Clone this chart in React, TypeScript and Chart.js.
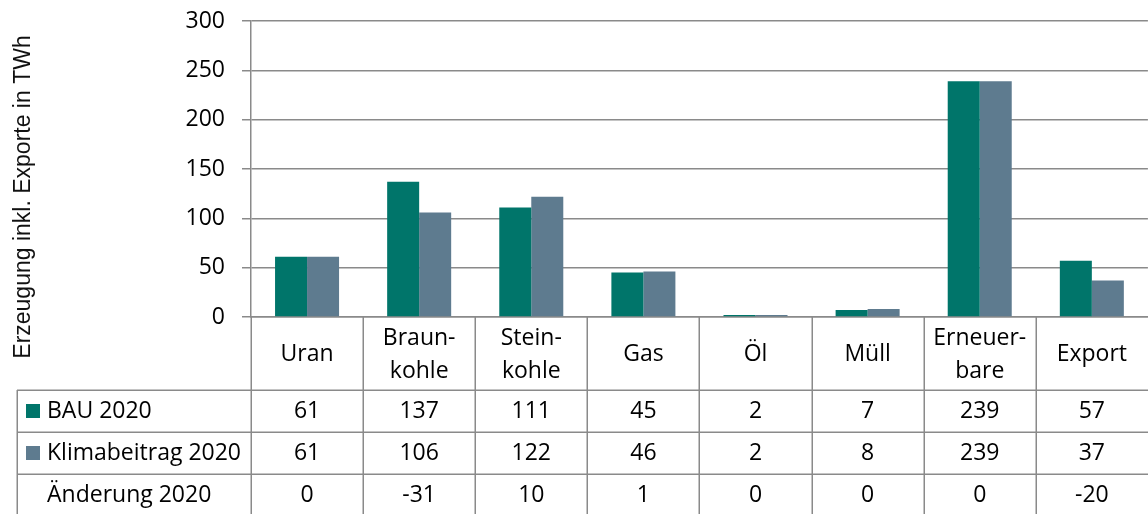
import React, { useEffect, useRef } from "react";
import { Chart, registerables } from "chart.js";

Chart.register(...registerables);

// ---- data ----
const categories: string[][] = [
  ["Uran"],
  ["Braun-", "kohle"],
  ["Stein-", "kohle"],
  ["Gas"],
  ["Öl"],
  ["Müll"],
  ["Erneuer-", "bare"],
  ["Export"],
];
const bau2020 = [61, 137, 111, 45, 2, 7, 239, 57];
const klimabeitrag2020 = [61, 106, 122, 46, 2, 8, 239, 37];
const aenderung2020 = [0, -31, 10, 1, 0, 0, 0, -20];
const rowNames = ["BAU 2020", "Klimabeitrag 2020", "Änderung 2020"];
const yTitle = "Erzeugung inkl. Exporte in TWh";
const yMin = 0;
const yMax = 300;
const yStep = 50;

// ---- styles ----
const COLOR_BAU = "#00756A";
const COLOR_KLIMA = "#5E7B8F";
const LINE = "#8a8a8a";
const FONT = "'Open Sans', 'Noto Sans', sans-serif";
const FONT_SIZE = 23;

const tablePlugin = {
  id: "dataTable",
  afterDraw(chart: any) {
    const { ctx, chartArea, scales } = chart;
    const x = scales.x;
    const bottom = chartArea.bottom;
    const headerH = 73;
    const rowH = 42;
    const tableLeft = 17;
    const H = chart.height;
    const W = chart.width;
    ctx.save();
    ctx.strokeStyle = LINE;
    ctx.lineWidth = 1.5;
    // vertical category boundaries
    for (let i = 0; i < categories.length; i++) {
      const bx = Math.round(x.getPixelForValue(i - 0.5)) + 0.25;
      ctx.beginPath();
      ctx.moveTo(bx, bottom);
      ctx.lineTo(bx, H);
      ctx.stroke();
    }
    // horizontal row lines
    for (let r = 0; r < 3; r++) {
      const ry = Math.round(bottom + headerH + r * rowH) + 0.25;
      ctx.beginPath();
      ctx.moveTo(tableLeft, ry);
      ctx.lineTo(W, ry);
      ctx.stroke();
    }
    // left border of table
    ctx.beginPath();
    ctx.moveTo(tableLeft + 0.25, bottom + headerH);
    ctx.lineTo(tableLeft + 0.25, H);
    ctx.stroke();

    // values
    const rows = [bau2020, klimabeitrag2020, aenderung2020];
    const swatches = [COLOR_BAU, COLOR_KLIMA, null];
    ctx.font = `${FONT_SIZE}px ${FONT}`;
    ctx.fillStyle = "#000";
    ctx.textBaseline = "middle";
    for (let r = 0; r < rows.length; r++) {
      const cy = bottom + headerH + r * rowH + rowH / 2;
      ctx.textAlign = "center";
      rows[r].forEach((v, i) => {
        ctx.fillText(String(v), x.getPixelForValue(i), cy);
      });
      const sw = swatches[r];
      if (sw) {
        ctx.fillStyle = sw;
        ctx.fillRect(26, cy - 7, 14, 14);
        ctx.fillStyle = "#000";
      }
      ctx.textAlign = "left";
      ctx.fillText(rowNames[r], 47, cy);
    }

    // y axis title
    ctx.save();
    ctx.translate(24, 197);
    ctx.rotate(-Math.PI / 2);
    ctx.font = `23px 'Liberation Sans', Arial, sans-serif`;
    ctx.textAlign = "center";
    ctx.textBaseline = "middle";
    ctx.fillStyle = "#111";
    ctx.fillText(yTitle, 0, 0);
    ctx.restore();
    ctx.restore();
  },
};

export default function App() {
  const ref = useRef<HTMLCanvasElement | null>(null);
  useEffect(() => {
    if (!ref.current) return;
    const chart = new Chart(ref.current, {
      type: "bar",
      data: {
        labels: categories as any,
        datasets: [
          {
            label: rowNames[0],
            data: bau2020,
            backgroundColor: COLOR_BAU,
            borderWidth: 0,
            categoryPercentage: 0.571,
            barPercentage: 1.0,
          },
          {
            label: rowNames[1],
            data: klimabeitrag2020,
            backgroundColor: COLOR_KLIMA,
            borderWidth: 0,
            categoryPercentage: 0.571,
            barPercentage: 1.0,
          },
        ],
      },
      options: {
        responsive: false,
        animation: false,
        layout: { padding: { top: 21, left: 0, right: 0, bottom: 0 } },
        plugins: {
          legend: { display: false },
          tooltip: { enabled: false },
          title: { display: false },
        },
        scales: {
          x: {
            offset: true,
            grid: { display: false, drawTicks: false },
            border: { display: true, color: LINE, width: 1.5 },
            ticks: {
              color: "#000",
              font: { family: FONT, size: FONT_SIZE, lineHeight: 1.44 },
              padding: 21,
              crossAlign: "center",
              maxRotation: 0,
              minRotation: 0,
              autoSkip: false,
            },
            afterFit: (s: any) => {
              s.height = 197;
            },
          },
          y: {
            min: yMin,
            max: yMax,
            grid: { color: LINE, lineWidth: 1.5, tickLength: 9, drawTicks: true },
            border: { display: true, color: LINE, width: 1.5 },
            ticks: {
              stepSize: yStep,
              color: "#000",
              padding: 17,
              font: { family: FONT, size: FONT_SIZE },
            },
            afterFit: (s: any) => {
              s.width = 251;
              s.paddingTop = 14;
              s.paddingBottom = 14;
            },
          },
        },
      },
      plugins: [tablePlugin],
    });
    return () => chart.destroy();
  }, []);
  return (
    <div style={{ position: "absolute", left: 0, top: 0, width: 1148, height: 514, background: "#fff" }}>
      <canvas ref={ref} width={1148} height={514} style={{ display: "block" }} />
    </div>
  );
}
